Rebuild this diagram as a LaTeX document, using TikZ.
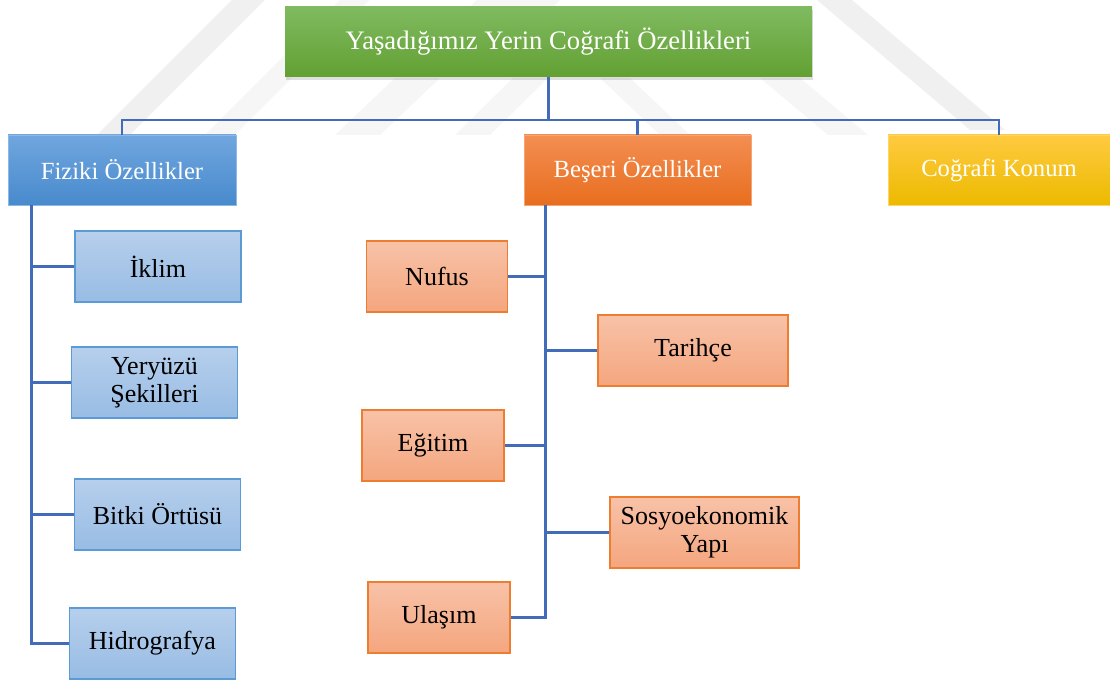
\documentclass[tikz,border=0pt]{standalone}
\usepackage{fontspec}
\setmainfont{Liberation Serif}
\usetikzlibrary{calc, shadows}
\definecolor{yesilT}{RGB}{128, 186, 96}
\definecolor{yesilB}{RGB}{98, 160, 50}
\definecolor{maviT}{RGB}{112, 166, 222}
\definecolor{maviB}{RGB}{72, 138, 205}
\definecolor{turuncuT}{RGB}{243, 142, 82}
\definecolor{turuncuB}{RGB}{232, 110, 30}
\definecolor{sariT}{RGB}{255, 202, 64}
\definecolor{sariB}{RGB}{236, 186, 0}
\definecolor{acikmaviT}{RGB}{182, 207, 236}
\definecolor{acikmaviB}{RGB}{152, 188, 228}
\definecolor{acikmaviC}{RGB}{91, 155, 213}
\definecolor{acikturuncuT}{RGB}{248, 194, 168}
\definecolor{acikturuncuB}{RGB}{244, 166, 126}
\definecolor{acikturuncuC}{RGB}{237, 125, 49}
\definecolor{hatmavi}{RGB}{66, 108, 186}
\definecolor{filigran}{RGB}{240, 240, 240}

\begin{document}
\begin{tikzpicture}[
    x=0.75pt, y=-0.75pt,
    kutu/.style={rectangle, inner sep=2pt, align=center, minimum height=52.5pt},
    kok/.style={kutu, top color=yesilT, bottom color=yesilB, draw=none, text=white, minimum width=395.25pt, font=\fontsize{20}{22}\selectfont, drop shadow={shadow xshift=1pt, shadow yshift=-2.5pt, opacity=0.25}},
    ana/.style={kutu, top color=#1T, bottom color=#1B, draw=#1T!80!white, line width=0.5pt, text=white, font=\fontsize{18.5}{21}\selectfont},
    yaprak/.style={kutu, minimum height=53.25pt, top color=#1T, bottom color=#1B, draw=#1C, line width=0.9pt, font=\fontsize{19.5}{21}\selectfont},
    baglanti/.style={draw=hatmavi, line width=2pt}
]
\useasboundingbox (0,0) rectangle (1110,680);

% filigran (soluk arka plan serit)
\fill[filigran] (97,135) -- (130,135) -- (265,0) -- (232,0) -- cycle;
\fill[filigran!60!white] (205,135) -- (235,135) -- (370,0) -- (340,0) -- cycle;
\fill[filigran!60!white] (335,135) -- (380,135) -- (440,78) -- (395,78) -- cycle;
\fill[filigran!60!white] (455,135) -- (490,135) -- (548,78) -- (513,78) -- cycle;
\fill[filigran!60!white] (470,7) -- (553,7) -- (560,0) -- (477,0) -- cycle;
\fill[filigran] (817,0) -- (852,0) -- (1005,130) -- (970,130) -- cycle;
\fill[filigran!60!white] (760,78) -- (800,78) -- (868,135) -- (828,135) -- cycle;
\fill[filigran!60!white] (600,78) -- (630,78) -- (690,135) -- (660,135) -- cycle;

% ust kutu
\node[kok] (kok) at (548.5,42) {Yaşadığımız Yerin Coğrafi Özellikleri};

% ana basliklar
\node[ana=mavi, minimum width=171pt] (fiz) at (122,170) {Fiziki Özellikler};
\node[ana=turuncu, minimum width=170.25pt] (bes) at (637.5,170) {Beşeri Özellikler};
\node[ana=sari, minimum width=166.5pt] (kon) at (999,170) {Coğrafi Konum};

% fiziki alt kutular
\node[yaprak=acikmavi, minimum width=124.5pt] (iklim) at (158,266.5) {İklim};
\node[yaprak=acikmavi, minimum width=124.5pt] (yer) at (154.5,382.5) {Yeryüzü\\Şekilleri};
\node[yaprak=acikmavi, minimum width=124.5pt] (bitki) at (157.5,514.5) {Bitki Örtüsü};
\node[yaprak=acikmavi, minimum width=124.5pt] (hidro) at (152.5,643.5) {Hidrografya};

% beseri alt kutular
\node[yaprak=acikturuncu, minimum width=105.75pt] (nufus) at (437,276.5) {Nufus};
\node[yaprak=acikturuncu, minimum width=142.5pt] (tarih) at (693,350.5) {Tarihçe};
\node[yaprak=acikturuncu, minimum width=106.5pt] (egitim) at (433,445.5) {Eğitim};
\node[yaprak=acikturuncu, minimum width=141.75pt] (sosyo) at (704.5,532.5) {Sosyoekonomik\\Yapı};
\node[yaprak=acikturuncu, minimum width=106.5pt] (ulasim) at (439,617.5) {Ulaşım};

% baglantilar
\coordinate (bus) at (548.5,120);
\draw[baglanti] (kok) -- (bus) -| (fiz);
\draw[baglanti] (bus) -| (bes);
\draw[baglanti] (bus) -| (kon);

\coordinate (fizgovde) at ($(fiz.south west)+(24,0)$);
\draw[baglanti] (fizgovde) |- (iklim);
\draw[baglanti] (fizgovde) |- (yer);
\draw[baglanti] (fizgovde) |- (bitki);
\draw[baglanti] (fizgovde) |- (hidro);

\coordinate (besgovde) at ($(bes.south west)+(22,0)$);
\draw[baglanti] (besgovde) |- (nufus);
\draw[baglanti] (besgovde) |- (tarih);
\draw[baglanti] (besgovde) |- (egitim);
\draw[baglanti] (besgovde) |- (sosyo);
\draw[baglanti] (besgovde) |- (ulasim);

\end{tikzpicture}
\end{document}
